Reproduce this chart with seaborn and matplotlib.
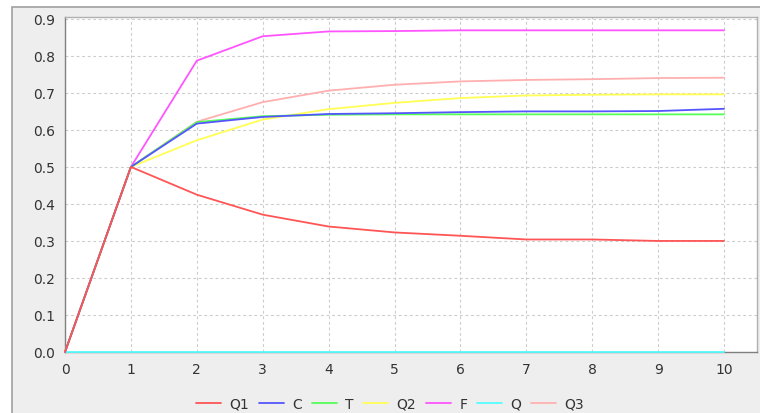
import matplotlib
matplotlib.use("Agg")
import matplotlib.pyplot as plt
from matplotlib.patches import Rectangle
import seaborn as sns
import pandas as pd

steps = [0, 1, 2, 3, 4, 5, 6, 7, 8, 9, 10]
q1 = [0.0, 0.5, 0.425, 0.371, 0.339, 0.323, 0.314, 0.304, 0.304, 0.300, 0.300]
c = [0.0, 0.5, 0.617, 0.635, 0.643, 0.645, 0.648, 0.650, 0.650, 0.651, 0.657]
t = [0.0, 0.5, 0.621, 0.637, 0.641, 0.642, 0.642, 0.642, 0.642, 0.642, 0.642]
q2 = [0.0, 0.5, 0.572, 0.628, 0.656, 0.673, 0.686, 0.693, 0.695, 0.696, 0.696]
f = [0.0, 0.5, 0.787, 0.853, 0.866, 0.867, 0.869, 0.869, 0.869, 0.869, 0.869]
q = [0.0, 0.0, 0.0, 0.0, 0.0, 0.0, 0.0, 0.0, 0.0, 0.0, 0.0]
q3 = [0.0, 0.5, 0.622, 0.675, 0.706, 0.722, 0.731, 0.735, 0.737, 0.740, 0.741]

series_names = ["Q1", "C", "T", "Q2", "F", "Q", "Q3"]
series_values = [q1, c, t, q2, f, q, q3]
colors = ["#ff5555", "#5555ff", "#55ff55", "#ffff55", "#ff55ff", "#55ffff", "#ffafaf"]

rows = []
for name, vals in zip(series_names, series_values):
    for x, y in zip(steps, vals):
        rows.append({"step": x, "value": y, "series": name})
df = pd.DataFrame(rows)

sns.set_theme(style="white")
plt.rcParams["font.family"] = ["DejaVu Sans"]

W, H = 760, 414
fig = plt.figure(figsize=(W / 100, H / 100), dpi=100)
fig.patch.set_facecolor("white")

# outer chart panel, drawn behind the axes
panel = Rectangle((12 / W, -0.01), (W - 12) / W + 0.01, (H - 8) / H + 0.01,
                  transform=fig.transFigure, facecolor="#eeeeee",
                  edgecolor="#a0a0a0", linewidth=1.2, zorder=-10)
fig.add_artist(panel)

ax = fig.add_axes([65 / W, 1 - 353 / H, (757 - 65) / W, (353 - 18) / H])
ax.set_zorder(1)
ax.set_facecolor("white")

sns.lineplot(data=df, x="step", y="value", hue="series", hue_order=series_names,
             palette=colors, linewidth=1.3, ax=ax, legend=False)
# first series ends up on top
for i, line in enumerate(ax.get_lines()):
    line.set_clip_on(False)
    line.set_zorder(10 - i)

ax.set_xlim(0, 10.5)
ax.set_ylim(0, 0.905)
ax.set_xticks(range(0, 11))
ax.set_yticks([i / 10 for i in range(10)])
ax.set_yticklabels([f"{i / 10:.1f}" for i in range(10)])
ax.set_xlabel("")
ax.set_ylabel("")

ax.grid(True, color="#cccccc", linestyle=(0, (2.5, 2.5)), linewidth=0.8)
ax.set_axisbelow(True)

for side in ["top", "right"]:
    ax.spines[side].set_color("#b0b0b0")
    ax.spines[side].set_linewidth(1.0)
for side in ["left", "bottom"]:
    ax.spines[side].set_color("#808080")
    ax.spines[side].set_linewidth(1.0)

ax.tick_params(axis="both", direction="out", length=4, width=0.8,
               color="#808080", labelsize=10, labelcolor="#333333", pad=3)

handles = [plt.Line2D([0], [0], color=col, linewidth=1.3) for col in colors]
leg = fig.legend(handles, series_names, loc="center", bbox_to_anchor=(390 / W, 1 - 405 / H),
                 ncol=7, frameon=False, fontsize=10, handlelength=1.8,
                 handletextpad=0.6, columnspacing=0.7, labelcolor="#333333")
leg.set_zorder(2)

fig.savefig("out.png", dpi=100, facecolor=fig.get_facecolor())
